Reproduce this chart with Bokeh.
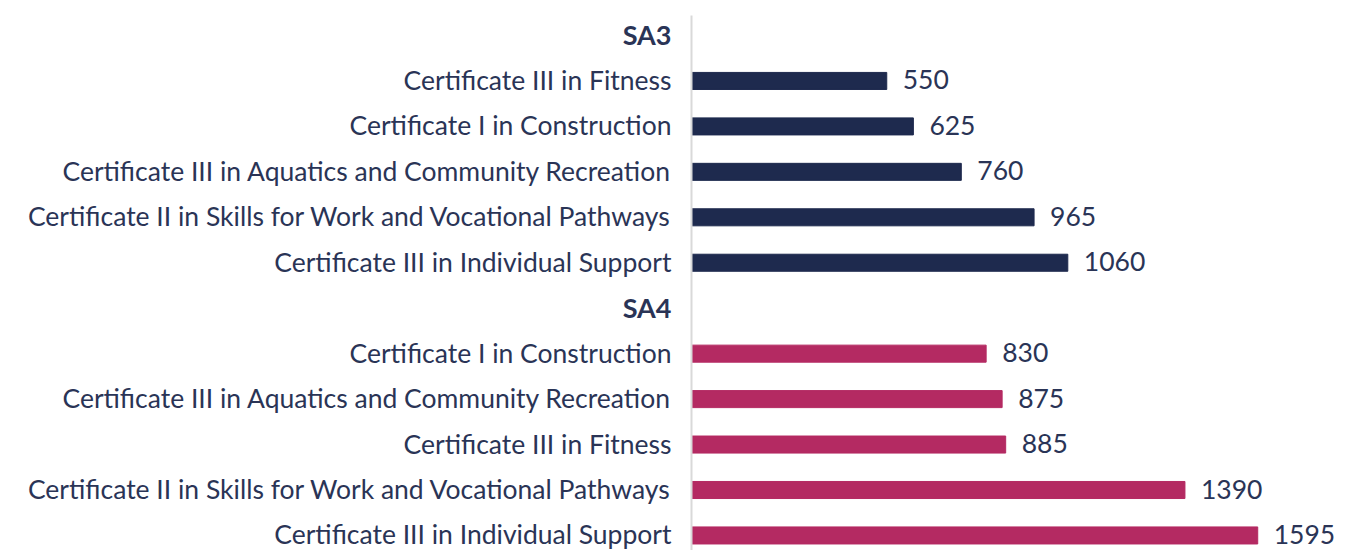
from bokeh.plotting import figure
from bokeh.models import ColumnDataSource, Range1d
from bokeh.core.properties import value
from bokeh.embed import file_html
from bokeh.resources import INLINE

# ---- data ----
groups = ["SA3", "SA4"]
sa3_courses = [
    "Certificate III in Fitness",
    "Certificate I in Construction",
    "Certificate III in Aquatics and Community Recreation",
    "Certificate II in Skills for Work and Vocational Pathways",
    "Certificate III in Individual Support",
]
sa3_values = [550, 625, 760, 965, 1060]
sa4_courses = [
    "Certificate I in Construction",
    "Certificate III in Aquatics and Community Recreation",
    "Certificate III in Fitness",
    "Certificate II in Skills for Work and Vocational Pathways",
    "Certificate III in Individual Support",
]
sa4_values = [830, 875, 885, 1390, 1595]
group_colors = ["#1e2a4e", "#b42a62"]

TEXT = "#2a3456"
FONT = "Lato"

# ---- build rows ----
hdr_y, hdr_t = [], []
bar_y, bar_v, bar_c, bar_lbl, bar_vt = [], [], [], [], []
row = 0
for g, courses, vals, col in zip(groups, [sa3_courses, sa4_courses],
                                 [sa3_values, sa4_values], group_colors):
    hdr_y.append(row); hdr_t.append(g)
    row += 1
    for c, v in zip(courses, vals):
        bar_y.append(row); bar_v.append(v); bar_c.append(col)
        bar_lbl.append(c); bar_vt.append(str(v))
        row += 1

W, H = 1346, 550
px_per_unit = 0.355
axis_px = 691          # frame x of value 0
row_px = 45.45
first_px = 35          # frame y of first row

x_start = -axis_px / px_per_unit
x_end = (W - axis_px) / px_per_unit
y_top = -first_px / row_px
y_bot = (H - first_px) / row_px

p = figure(width=W, height=H, output_backend="svg", toolbar_location=None,
           x_range=Range1d(x_start, x_end), y_range=Range1d(y_bot, y_top),
           min_border=0, outline_line_color=None)
p.axis.visible = False
p.grid.visible = False

bars = ColumnDataSource(dict(y=bar_y, v=bar_v, c=bar_c, lbl=bar_lbl, vt=bar_vt,
                             zero=[0] * len(bar_y)))
hdrs = ColumnDataSource(dict(y=hdr_y, t=hdr_t, zero=[0] * len(hdr_y)))

p.hbar(y="y", left=0, right="v", height=0.375, color="c", source=bars)

# vertical axis line
p.segment(x0=[0], y0=[y_top + 0.33], x1=[0], y1=[y_bot], line_color="#d9d9d9",
          line_width=2)

p.text(x="v", y="y", text="vt", source=bars, x_offset=16, y_offset=-1,
       text_align="left", text_baseline="middle", text_font=value(FONT),
       text_font_size="26.5px", text_color=TEXT)
p.text(x="zero", y="y", text="lbl", source=bars, x_offset=-20, y_offset=-1,
       text_align="right", text_baseline="middle", text_font=value(FONT),
       text_font_size="26.5px", text_color=TEXT)
p.text(x="zero", y="y", text="t", source=hdrs, x_offset=-20, y_offset=-1,
       text_align="right", text_baseline="middle", text_font=value(FONT),
       text_font_size="27px", text_font_style="bold", text_color=TEXT)

open("out.html", "w").write(file_html(p, INLINE))
